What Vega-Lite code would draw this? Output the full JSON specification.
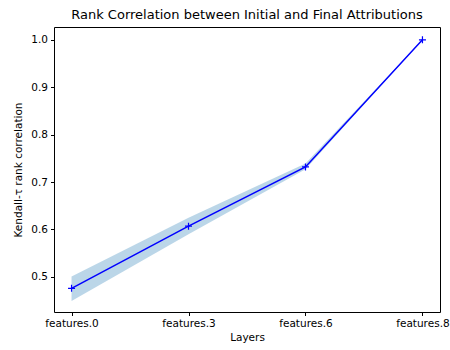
{
  "$schema": "https://vega.github.io/schema/vega-lite/v6.json",
  "autosize": {"type": "none"},
  "padding": {"left": 54, "top": 27, "right": 10, "bottom": 38},
  "width": 386,
  "height": 285,
  "title": {"text": "Rank Correlation between Initial and Final Attributions", "font": "DejaVu Sans", "fontSize": 13, "fontWeight": "normal", "color": "black", "offset": 5},
  "config": {
    "font": "DejaVu Sans",
    "view": {"stroke": "black", "strokeWidth": 1},
    "axis": {"grid": false, "domain": false, "tickColor": "black", "tickSize": 3.5, "labelColor": "black", "labelFontSize": 10.5, "titleFontSize": 10.5, "titleFontWeight": "normal", "titleColor": "black", "labelFont": "DejaVu Sans", "titleFont": "DejaVu Sans"}
  },
  "data": {"values": [
    {"layer": "features.0", "value": 0.476, "lo": 0.449, "hi": 0.501},
    {"layer": "features.3", "value": 0.607, "lo": 0.590, "hi": 0.625},
    {"layer": "features.6", "value": 0.732, "lo": 0.727, "hi": 0.739},
    {"layer": "features.8", "value": 1.0, "lo": 1.0, "hi": 1.0}
  ]},
  "encoding": {
    "x": {"field": "layer", "type": "ordinal", "scale": {"type": "point", "padding": 0.15}, "axis": {"title": "Layers", "labelAngle": 0, "titlePadding": 3, "labelPadding": 3}}
  },
  "layer": [
    {
      "mark": {"type": "area", "color": "#1f77b4", "opacity": 0.3},
      "encoding": {
        "y": {"field": "lo", "type": "quantitative", "scale": {"domain": [0.426, 1.027], "nice": false, "zero": false}, "axis": {"title": "Kendall-τ rank correlation", "values": [0.5, 0.6, 0.7, 0.8, 0.9, 1.0], "format": ".1f", "titlePadding": 7, "labelPadding": 3}},
        "y2": {"field": "hi"}
      }
    },
    {
      "mark": {"type": "line", "color": "#0000ff", "strokeWidth": 1.5},
      "encoding": {"y": {"field": "value", "type": "quantitative"}}
    },
    {
      "mark": {"type": "point", "shape": "M-1,0L1,0M0,-1L0,1", "color": "#0000ff", "strokeWidth": 1.2, "size": 49, "opacity": 1},
      "encoding": {"y": {"field": "value", "type": "quantitative"}}
    }
  ]
}
